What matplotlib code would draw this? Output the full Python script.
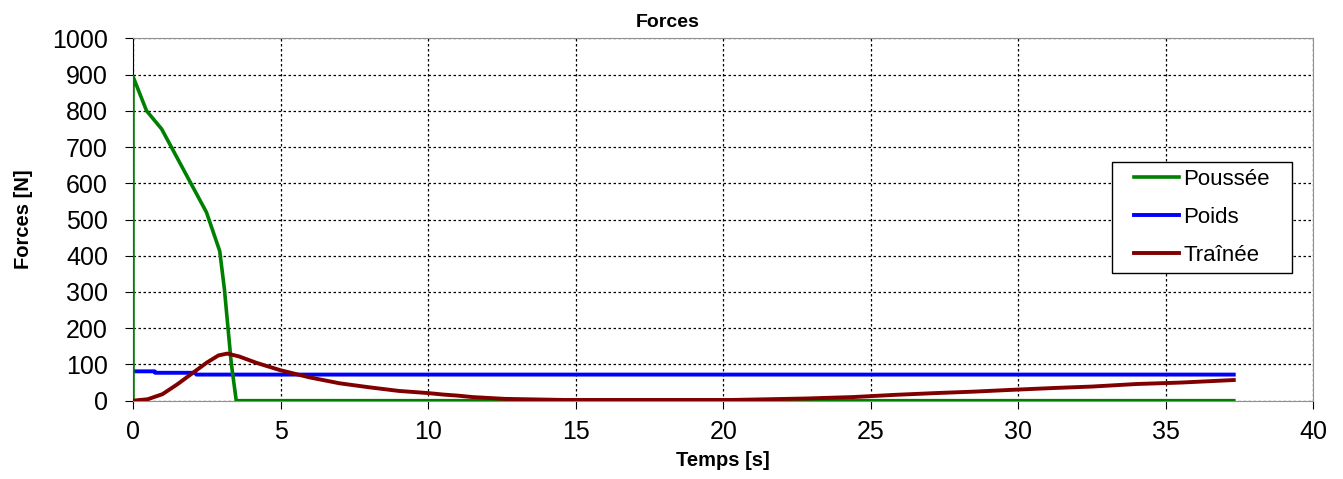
import numpy as np
import matplotlib.pyplot as plt
from matplotlib.patches import Rectangle

plt.rcParams['font.family'] = ['Liberation Sans', 'DejaVu Sans']

# Poussée (thrust)
t_pous = [0, 0, 0.46, 0.97, 2.49, 2.94, 3.1, 3.33, 3.5, 37.3]
f_pous = [0, 895, 800, 750, 520, 413, 307, 104, 0, 0]

# Poids (weight)
t_poids = [0, 0.74, 0.75, 2.1, 2.15, 37.3]
f_poids = [81, 81, 77, 77, 72, 72]

# Traînée (drag)
t_trai = [0, 0.5, 1.0, 1.5, 2.0, 2.5, 2.9, 3.2, 3.6, 4.2, 5, 6, 7, 8, 9, 10,
          10.5, 11, 11.5, 12.6, 14.6, 20.3, 22.8, 24.4, 25.8, 27.2, 28.5,
          29.8, 31.2, 32.5, 34.0, 35.5, 37.3]
f_trai = [0, 4, 18, 45, 75, 105, 125, 130, 122, 104, 84, 64, 48, 37, 27, 21,
          17, 14, 10, 5, 2, 2, 6, 10, 16, 21, 25, 30, 35, 39, 46, 50, 57]

fig = plt.figure(figsize=(13.43, 4.79), dpi=100)
ax = fig.add_axes([0.099, 0.1635, 0.879, 0.7565])

ax.plot(t_pous, f_pous, color='#008000', lw=2.6, label='Poussée', zorder=3)
ax.plot(t_poids, f_poids, color='#0000ff', lw=2.8, label='Poids', zorder=2)
ax.plot(t_trai, f_trai, color='#800000', lw=2.8, label='Traînée', zorder=4)

ax.set_xlim(0, 40)
ax.set_ylim(0, 1000)
ax.set_xticks(np.arange(0, 41, 5))
ax.set_yticks(np.arange(0, 1001, 100))
ax.grid(True, color='black', linestyle=(0, (2, 2)), lw=0.9)

ax.tick_params(direction='out', length=6, labelsize=18, color='black')
ax.tick_params(axis='x', pad=8)
ax.tick_params(axis='y', pad=12)
for s in ['top', 'right', 'bottom']:
    ax.spines[s].set_color('#909090')
ax.spines['left'].set_color('black')

fig.text(0.497, 0.953, 'Forces', fontsize=14, fontweight='bold', ha='center', va='center')
ax.set_xlabel('Temps [s]', fontsize=14.5, fontweight='bold', labelpad=5)
ax.set_ylabel('Forces [N]', fontsize=14.5, fontweight='bold', labelpad=14)

# legend box drawn separately, entries centred in it
ax.add_patch(Rectangle((0.829, 0.352), 0.153, 0.307, transform=ax.transAxes,
                       facecolor='white', edgecolor='black', lw=1.0, zorder=5))
leg = ax.legend(loc='center', bbox_to_anchor=(0.9055, 0.5055), fontsize=16,
                handlelength=2.0, labelspacing=0.77, handletextpad=0.2,
                borderpad=0, borderaxespad=0, frameon=False)
leg.set_zorder(6)

fig.savefig('out.png', dpi=100)
